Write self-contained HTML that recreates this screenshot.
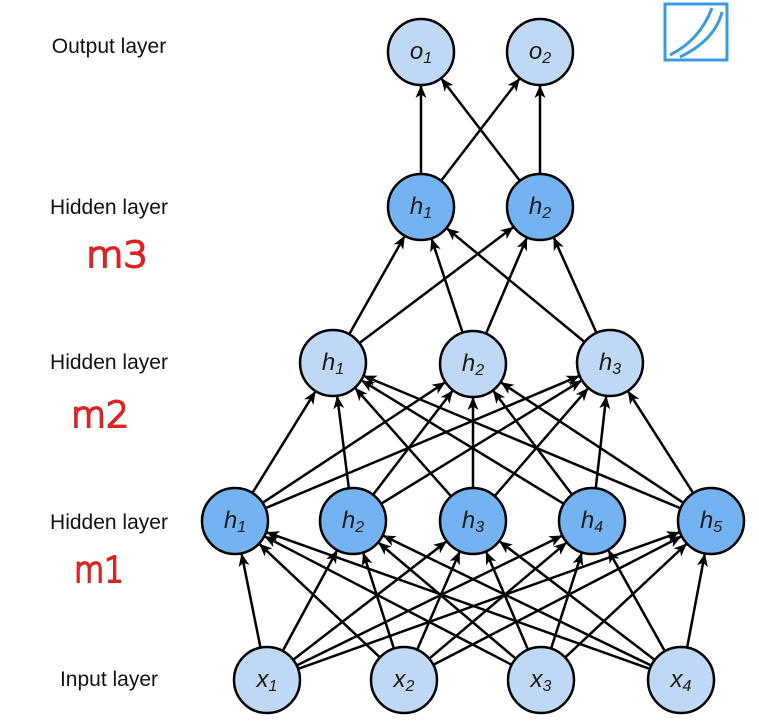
<!DOCTYPE html>
<html><head><meta charset="utf-8"><style>
html,body{margin:0;padding:0;background:#fff;}
svg{display:block;}
.lbl{font-family:"Liberation Sans",sans-serif;font-size:21px;fill:#111;}
.nt{font-family:"Liberation Sans",sans-serif;font-style:italic;font-size:24px;fill:#1a1a1a;}
.sub{font-size:16px;}
.hw{font-family:"DejaVu Sans",sans-serif;font-weight:200;font-size:36px;fill:none;stroke:#d22;stroke-width:2;}
</style></head><body>
<svg id="s" width="759" height="727" viewBox="0 0 759 727" xmlns="http://www.w3.org/2000/svg">
<defs><marker id="a" markerWidth="13" markerHeight="11" refX="12" refY="5.5" orient="auto" markerUnits="userSpaceOnUse"><path d="M0,0 L13,5.5 L0,11 L3.5,5.5 z" fill="#000"/></marker></defs>
<g id="lines" stroke="#000" stroke-width="2.5" fill="none"></g>
<g stroke="#000" stroke-width="2.5">
<circle cx="421" cy="52" r="33" fill="#bed8f6"/>
<circle cx="540" cy="52" r="33" fill="#bed8f6"/>
<circle cx="421" cy="207" r="33" fill="#74b3f2"/>
<circle cx="540" cy="207" r="33" fill="#74b3f2"/>
<circle cx="333" cy="363" r="33" fill="#bed8f6"/>
<circle cx="473" cy="364" r="33" fill="#bed8f6"/>
<circle cx="610" cy="363" r="33" fill="#bed8f6"/>
<circle cx="235" cy="521" r="33" fill="#74b3f2"/>
<circle cx="353" cy="521" r="33" fill="#74b3f2"/>
<circle cx="473" cy="521" r="33" fill="#74b3f2"/>
<circle cx="592" cy="521" r="33" fill="#74b3f2"/>
<circle cx="711" cy="521" r="33" fill="#74b3f2"/>
<circle cx="267" cy="680" r="33" fill="#bed8f6"/>
<circle cx="404" cy="680" r="33" fill="#bed8f6"/>
<circle cx="541" cy="680" r="33" fill="#bed8f6"/>
<circle cx="681" cy="680" r="33" fill="#bed8f6"/>
</g>
<g class="nt" text-anchor="middle">
<text x="421" y="59">o<tspan class="sub" dy="4">1</tspan></text>
<text x="540" y="59">o<tspan class="sub" dy="4">2</tspan></text>
<text x="421" y="214">h<tspan class="sub" dy="4">1</tspan></text>
<text x="540" y="214">h<tspan class="sub" dy="4">2</tspan></text>
<text x="333" y="370">h<tspan class="sub" dy="4">1</tspan></text>
<text x="473" y="371">h<tspan class="sub" dy="4">2</tspan></text>
<text x="610" y="370">h<tspan class="sub" dy="4">3</tspan></text>
<text x="235" y="528">h<tspan class="sub" dy="4">1</tspan></text>
<text x="353" y="528">h<tspan class="sub" dy="4">2</tspan></text>
<text x="473" y="528">h<tspan class="sub" dy="4">3</tspan></text>
<text x="592" y="528">h<tspan class="sub" dy="4">4</tspan></text>
<text x="711" y="528">h<tspan class="sub" dy="4">5</tspan></text>
<text x="267" y="687">x<tspan class="sub" dy="4">1</tspan></text>
<text x="404" y="687">x<tspan class="sub" dy="4">2</tspan></text>
<text x="541" y="687">x<tspan class="sub" dy="4">3</tspan></text>
<text x="681" y="687">x<tspan class="sub" dy="4">4</tspan></text>
</g>
<g class="lbl" text-anchor="middle">
<text x="109" y="53">Output layer</text>
<text x="109" y="214">Hidden layer</text>
<text x="109" y="369">Hidden layer</text>
<text x="109" y="529">Hidden layer</text>
<text x="109" y="686">Input layer</text>
</g>
<g class="hw">
<text x="86" y="267" textLength="62" lengthAdjust="spacingAndGlyphs">m3</text>
<text x="71" y="427" textLength="58" lengthAdjust="spacingAndGlyphs">m2</text>
<text x="74" y="582" textLength="50" lengthAdjust="spacingAndGlyphs">m1</text>
</g>
<rect x="665" y="4" width="62" height="56" fill="none" stroke="#3a9be0" stroke-width="3"/>
<path d="M670,55 Q700,40 712,8 M680,57 Q715,40 722,12" stroke="#3a9be0" stroke-width="3" fill="none"/>
</svg>
<script>
var L=[[[267,680],[404,680],[541,680],[681,680]],
[[235,521],[353,521],[473,521],[592,521],[711,521]],
[[333,363],[473,364],[610,363]],
[[421,207],[540,207]],
[[421,52],[540,52]]];
var g=document.getElementById('lines'),r=34,ns="http://www.w3.org/2000/svg";
for(var i=0;i<4;i++)for(var a=0;a<L[i].length;a++)for(var b=0;b<L[i+1].length;b++){
var p=L[i][a],q=L[i+1][b],dx=q[0]-p[0],dy=q[1]-p[1],d=Math.sqrt(dx*dx+dy*dy),ux=dx/d,uy=dy/d;
var l=document.createElementNS(ns,'line');
l.setAttribute('x1',p[0]+ux*r);l.setAttribute('y1',p[1]+uy*r);
l.setAttribute('x2',q[0]-ux*r);l.setAttribute('y2',q[1]-uy*r);
l.setAttribute('marker-end','url(#a)');g.appendChild(l);}
</script>
</body></html>
